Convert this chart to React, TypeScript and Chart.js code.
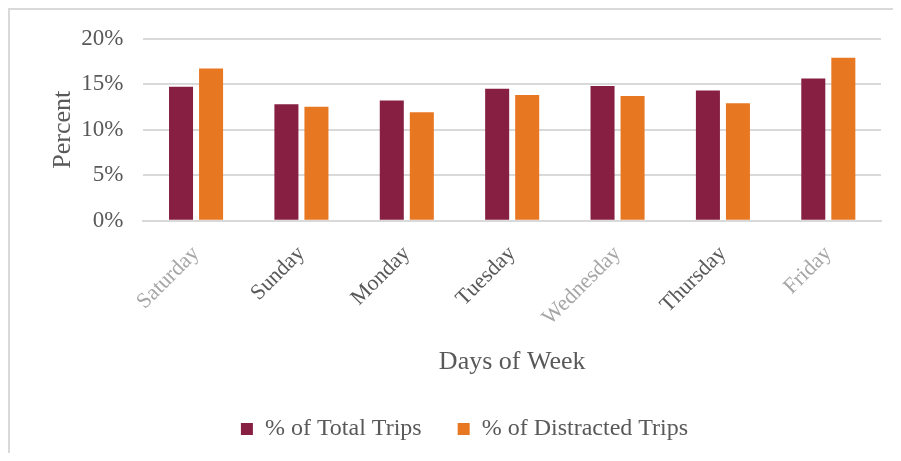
import React, { useEffect, useRef } from "react";
import { Chart, registerables } from "chart.js";

Chart.register(...registerables);

const days = ["Saturday", "Sunday", "Monday", "Tuesday", "Wednesday", "Thursday", "Friday"];
const totalTrips = [14.7, 12.8, 13.2, 14.5, 14.8, 14.3, 15.6];
const distractedTrips = [16.7, 12.5, 11.9, 13.8, 13.7, 12.9, 17.9];
const yTicks = [0, 5, 10, 15, 20];
const dayLabelColors = ["#a6a6a6", "#595959", "#595959", "#595959", "#a6a6a6", "#595959", "#a6a6a6"];

const FONT = "'Liberation Serif', 'Times New Roman', serif";

export default function App() {
  const ref = useRef<HTMLCanvasElement>(null);
  useEffect(() => {
    if (!ref.current) return;
    const chart = new Chart(ref.current, {
      type: "bar",
      data: {
        labels: days,
        datasets: [
          {
            label: "% of Total Trips",
            data: totalTrips,
            backgroundColor: "#861F41",
            categoryPercentage: 0.57,
            barPercentage: 0.8,
          },
          {
            label: "% of Distracted Trips",
            data: distractedTrips,
            backgroundColor: "#E87722",
            categoryPercentage: 0.57,
            barPercentage: 0.8,
          },
        ],
      },
      options: {
        animation: false,
        responsive: false,
        layout: { padding: { top: 28.5, right: 12, bottom: 2, left: 38 } },
        plugins: {
          tooltip: { enabled: false },
          legend: {
            position: "bottom",
            labels: {
              boxWidth: 12,
              boxHeight: 12,
              padding: 36,
              color: "#595959",
              font: { family: FONT, size: 24 },
            },
          },
        },
        scales: {
          x: {
            grid: { display: false, drawTicks: false },
            border: { display: true, color: "#d9d9d9", width: 2 },
            ticks: {
              minRotation: 45,
              maxRotation: 45,
              padding: 20,
              color: dayLabelColors,
              font: { family: FONT, size: 22 },
            },
            title: {
              display: true,
              text: "Days of Week",
              color: "#595959",
              font: { family: FONT, size: 26 },
              padding: { top: -4, bottom: 3 },
            },
          },
          y: {
            min: 0,
            max: 20,
            afterBuildTicks: (axis: any) => {
              axis.ticks = yTicks.map((v) => ({ value: v }));
            },
            afterFit: (axis: any) => {
              axis.paddingTop = 0;
              axis.paddingBottom = 0;
            },
            grid: { color: "#d9d9d9", lineWidth: 2, drawTicks: false },
            border: { display: false },
            ticks: {
              padding: 20,
              color: "#595959",
              font: { family: FONT, size: 23 },
              callback: (v: any) => v + "%",
            },
            title: {
              display: true,
              text: "Percent",
              color: "#595959",
              font: { family: FONT, size: 26 },
              padding: { top: 0, bottom: -18 },
            },
          },
        },
      },
    });
    return () => chart.destroy();
  }, []);
  return (
    <div
      style={{
        width: 885,
        height: 445,
        borderTop: "2px solid #d9d9d9",
        borderLeft: "2px solid #d9d9d9",
        boxSizing: "border-box",
        background: "#fff",
      }}
    >
      <canvas ref={ref} width={883} height={443} style={{ display: "block" }} />
    </div>
  );
}
